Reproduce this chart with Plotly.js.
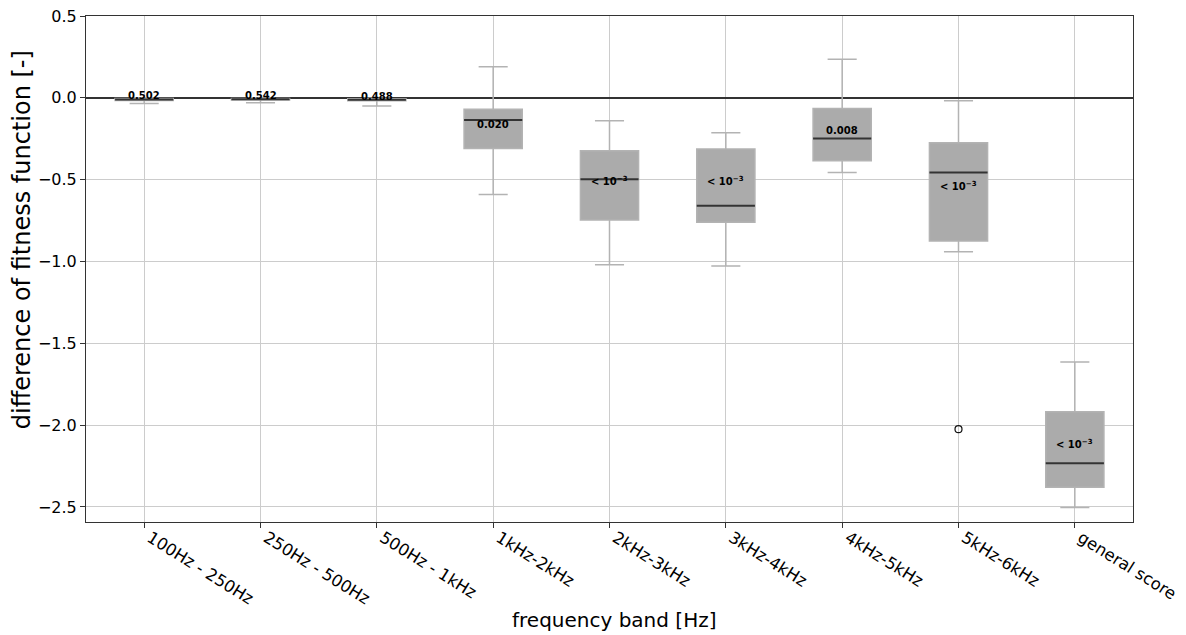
<!DOCTYPE html>
<html>
<head>
<meta charset="utf-8">
<script src="https://cdn.plot.ly/plotly-3.0.1.min.js"></script>
<style>html,body{margin:0;padding:0;background:#fff;}#chart{width:1186px;height:635px;}</style>
</head>
<body>
<div id="chart"></div>
<script>
const categories = ["100Hz - 250Hz","250Hz - 500Hz","500Hz - 1kHz","1kHz-2kHz","2kHz-3kHz","3kHz-4kHz","4kHz-5kHz","5kHz-6kHz","general score"];
const upperWhisker = [0.000, 0.000, -0.002, 0.19, -0.14, -0.213, 0.235, -0.018, -1.614];
const q3Values     = [-0.004, -0.004, -0.006, -0.07, -0.323, -0.313, -0.066, -0.274, -1.919];
const medians      = [-0.010, -0.008, -0.012, -0.136, -0.498, -0.659, -0.248, -0.457, -2.233];
const q1Values     = [-0.016, -0.014, -0.018, -0.31, -0.746, -0.76, -0.384, -0.875, -2.38];
const lowerWhisker = [-0.034, -0.030, -0.050, -0.59, -1.02, -1.027, -0.457, -0.94, -2.504];
const outlierIndex = [7];
const outlierValues = [-2.025];
const pLabels = ["0.502","0.542","0.488","0.020","< 10<sup>−3</sup>","< 10<sup>−3</sup>","0.008","< 10<sup>−3</sup>","< 10<sup>−3</sup>"];
const pLabelY = [0.012, 0.012, 0.008, -0.166, -0.508, -0.508, -0.197, -0.539, -2.117];
const yTickVals = [0.5, 0, -0.5, -1, -1.5, -2, -2.5];
const yTickText = ['0.5','0.0','−0.5','−1.0','−1.5','−2.0','−2.5'];

const idx = categories.map((c,i)=>i);
const boxHalf = 0.25;

const boxTrace = {
  type: 'box',
  x: idx,
  q1: q1Values, median: medians, q3: q3Values,
  lowerfence: lowerWhisker, upperfence: upperWhisker,
  width: 0.5,
  whiskerwidth: 0.5,
  fillcolor: '#ababab',
  line: {color: '#b3b3b3', width: 1.5},
  boxpoints: false,
  hoverinfo: 'skip',
  showlegend: false
};

const medX = [], medY = [];
idx.forEach(i => { medX.push(i-boxHalf, i+boxHalf, null); medY.push(medians[i], medians[i], null); });
const medianTrace = {
  type: 'scatter', mode: 'lines', x: medX, y: medY,
  line: {color: '#333333', width: 2}, hoverinfo: 'skip', showlegend: false
};

const outlierTrace = {
  type: 'scatter', mode: 'markers', x: outlierIndex, y: outlierValues,
  marker: {symbol: 'circle-open', size: 7, color: '#111', line: {width: 1.2, color: '#111'}},
  hoverinfo: 'skip', showlegend: false
};

const annotations = idx.map(i => ({
  x: i, y: pLabelY[i], xref: 'x', yref: 'y',
  text: '<b>' + pLabels[i] + '</b>', showarrow: false,
  font: {family: 'DejaVu Sans', size: 10, color: '#000'}
}));
annotations.push({
  xref: 'paper', yref: 'paper', x: -0.0611, y: 0.557, xanchor: 'center', yanchor: 'middle',
  text: 'difference of fitness function [-]', textangle: -90, showarrow: false,
  font: {family: 'DejaVu Sans', size: 24, color: '#000'}
});
annotations.push({
  xref: 'paper', yref: 'paper', x: 0.505, y: -0.1937, xanchor: 'center', yanchor: 'middle',
  text: 'frequency band [Hz]', showarrow: false,
  font: {family: 'DejaVu Sans', size: 20, color: '#000'}
});

const layout = {
  width: 1186, height: 635,
  margin: {l: 86, r: 53, t: 16, b: 113},
  paper_bgcolor: '#fff', plot_bgcolor: '#fff',
  font: {family: 'DejaVu Sans', color: '#000'},
  showlegend: false,
  xaxis: {
    range: [-0.5, 8.5],
    tickvals: idx, ticktext: categories, tickangle: 32,
    tickfont: {size: 16.5, family: 'DejaVu Sans'},
    ticklabelshift: 6,
    ticklabelstandoff: -6,
    showgrid: true, gridcolor: '#cccccc', gridwidth: 1,
    showline: true, linecolor: '#333', linewidth: 1, mirror: true,
    ticks: 'outside', ticklen: 5, tickcolor: '#333',
    zeroline: false
  },
  yaxis: {
    range: [-2.592, 0.5],
    tickvals: yTickVals,
    ticktext: yTickText,
    tickfont: {size: 16, family: 'DejaVu Sans'},
    showgrid: true, gridcolor: '#cccccc', gridwidth: 1,
    showline: true, linecolor: '#333', linewidth: 1, mirror: true,
    ticks: 'outside', ticklen: 5, tickcolor: '#333',
    zeroline: true, zerolinecolor: '#333', zerolinewidth: 2
  },
  annotations: annotations
};

Plotly.newPlot('chart', [boxTrace, medianTrace, outlierTrace], layout, {displayModeBar: false, staticPlot: true});
</script>
</body>
</html>
